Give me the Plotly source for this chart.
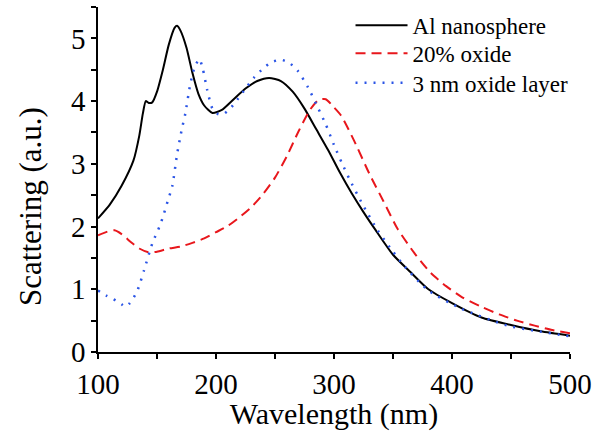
"""Scattering spectra of an Al nanosphere with and without oxide."""

import plotly.graph_objects as go

# Al nanosphere (solid black)
wl_al = [100, 110, 120, 130, 135, 138, 140.5, 143, 146, 150, 155, 160, 165, 167, 170, 175,
         180, 185, 190, 197, 205, 215, 225, 235, 245, 255, 265, 275, 285, 295, 305, 315,
         325, 335, 350, 365, 380, 400, 425, 450, 475, 500]
sc_al = [2.13, 2.35, 2.65, 3.05, 3.45, 3.80, 4.00, 3.97, 3.98, 4.15, 4.50, 4.90, 5.17, 5.20,
         5.12, 4.85, 4.45, 4.12, 3.93, 3.81, 3.86, 4.03, 4.20, 4.32, 4.37, 4.32, 4.15, 3.88,
         3.55, 3.22, 2.86, 2.53, 2.23, 1.95, 1.55, 1.27, 1.00, 0.78, 0.55, 0.43, 0.33, 0.26]

# 20% oxide (dashed red)
wl_ox = [100, 108, 114, 120, 128, 135, 143, 150, 160, 170, 180, 190, 200, 210, 220, 230, 240,
         250, 260, 270, 280, 287, 293, 300, 306, 317, 330, 342, 354, 368, 382, 395, 408, 425,
         440, 455, 470, 485, 500]
sc_ox = [1.86, 1.92, 1.94, 1.88, 1.75, 1.65, 1.59, 1.60, 1.65, 1.68, 1.74, 1.81, 1.91, 2.01,
         2.15, 2.31, 2.52, 2.78, 3.12, 3.52, 3.87, 4.02, 4.03, 3.90, 3.77, 3.37, 2.84, 2.40,
         1.96, 1.58, 1.26, 1.05, 0.88, 0.72, 0.60, 0.50, 0.42, 0.35, 0.30]

# 3 nm oxide layer (dotted blue)
wl_layer = [100, 107, 115, 120, 123, 127, 133, 139, 146, 153, 159, 163, 167, 171, 174, 178,
            182, 186, 189, 192.5, 197, 202, 206, 212, 218, 225, 232, 240, 247, 255, 262, 269,
            278, 286, 293, 300, 307, 313, 324, 337, 350, 360, 380, 408, 447, 470, 493, 500]
sc_layer = [0.98, 0.90, 0.82, 0.76, 0.72, 0.78, 0.96, 1.30, 1.73, 2.04, 2.40, 2.65, 3.15, 3.55,
            3.80, 4.25, 4.55, 4.67, 4.50, 4.18, 3.88, 3.79, 3.79, 3.88, 4.02, 4.20, 4.37, 4.52,
            4.62, 4.66, 4.61, 4.49, 4.22, 3.91, 3.63, 3.30, 3.00, 2.76, 2.36, 1.94, 1.60, 1.36,
            0.98, 0.69, 0.42, 0.34, 0.27, 0.25]

FONT = "Times New Roman"

fig = go.Figure()
fig.add_trace(go.Scatter(x=wl_al, y=sc_al, mode="lines", name="Al nanosphere", legend="legend",
                         line=dict(color="black", width=2, shape="spline", smoothing=0.6)))
fig.add_trace(go.Scatter(x=wl_ox, y=sc_ox, mode="lines", name="20% oxide", legend="legend2",
                         line=dict(color="#e8171c", width=2, dash="10px,6px",
                                   shape="spline", smoothing=0.6)))
fig.add_trace(go.Scatter(x=wl_layer, y=sc_layer, mode="lines", name="3 nm oxide layer",
                         legend="legend3",
                         line=dict(color="#2b55e6", width=2.5, dash="2px,7px",
                                   shape="spline", smoothing=0.6)))

axis_common = dict(
    showline=True, linecolor="black", linewidth=1.5, mirror=False,
    showgrid=False, zeroline=False,
    ticks="outside", ticklen=5, tickwidth=1.5, tickcolor="black",
    tickfont=dict(family=FONT, size=29, color="black"),
)

fig.update_xaxes(
    range=[100, 500], dtick=100, tick0=100,
    minor=dict(ticks="outside", dtick=50, ticklen=5, tickwidth=1.5, tickcolor="black"),
    title=dict(text="Wavelength (nm)", font=dict(family=FONT, size=30, color="black"),
               standoff=0),
    **axis_common,
)
fig.update_yaxes(
    range=[0, 5.5], dtick=1, tick0=0,
    minor=dict(ticks="outside", dtick=0.5, ticklen=5, tickwidth=1.5, tickcolor="black"),
    **axis_common,
)

# y-axis title sits a little below the middle of the axis in the original
fig.add_annotation(text="Scattering (a.u.)", textangle=-90, showarrow=False,
                   xref="paper", yref="paper", x=-0.143, y=0.422,
                   xanchor="center", yanchor="middle",
                   font=dict(family=FONT, size=31, color="black"))

# one legend per row so the rows can sit as tightly as in the original
legend_style = dict(x=0.535, xanchor="left", yanchor="middle",
                    font=dict(family=FONT, size=23, color="black"),
                    bgcolor="rgba(0,0,0,0)", itemwidth=52)

fig.update_layout(
    width=609, height=431,
    margin=dict(l=98, r=39, t=7, b=79, autoexpand=False),
    plot_bgcolor="white", paper_bgcolor="white",
    showlegend=True,
    legend=dict(y=0.947, **legend_style),
    legend2=dict(y=0.866, **legend_style),
    legend3=dict(y=0.780, **legend_style),
)

fig.write_html("out.html", config={"displayModeBar": False},
               post_script="document.body.style.margin='0px';")
